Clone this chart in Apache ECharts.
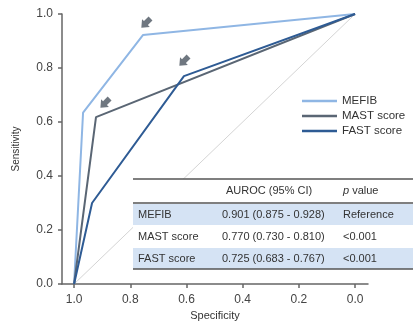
<!DOCTYPE html>
<html><head><meta charset="utf-8">
<script src="https://cdn.jsdelivr.net/npm/echarts@6/dist/echarts.min.js"></script>
<style>html,body{margin:0;padding:0;background:#fff}#c{width:416px;height:324px}</style>
</head><body><div id="c"></div>
<script>
// Data: [specificity, sensitivity]
var mefib = [[1.0, 0.0], [0.968, 0.635], [0.755, 0.922], [0.0, 1.0]];
var mast  = [[1.0, 0.0], [0.922, 0.618], [0.0, 1.0]];
var fast  = [[1.0, 0.0], [0.936, 0.30], [0.609, 0.77], [0.0, 1.0]];
var diag  = [[1.0, 0.0], [0.0, 1.0]];
var arrowTargets = [[0.755, 0.922], [0.922, 0.618], [0.609, 0.77]];
var tickValues = [0, 0.2, 0.4, 0.6, 0.8, 1.0];
var seriesNames = ['MEFIB', 'MAST score', 'FAST score'];
var tableHeader = ['', 'AUROC (95% CI)', 'p value'];
var tableRows = [
  ['MEFIB', '0.901 (0.875 - 0.928)', 'Reference'],
  ['MAST score', '0.770 (0.730 - 0.810)', '<0.001'],
  ['FAST score', '0.725 (0.683 - 0.767)', '<0.001']
];

var colors = ['#8fb6e4', '#5a6674', '#2e5b94'];
var font = 'Liberation Sans, Arial, sans-serif';
var chart = echarts.init(document.getElementById('c'));

// table graphic
var tL = 133, tR = 413, tTop = 179, hdrH = 24, rowH = 22;
var colX = [tL + 5, 222, 343];
var g = [];
g.push({type:'rect', shape:{x:tL, y:tTop, width:tR-tL, height:hdrH+rowH*3}, style:{fill:'#fff'}, z:10});
g.push({type:'line', shape:{x1:tL,y1:tTop,x2:tR,y2:tTop}, style:{stroke:'#555',lineWidth:1.5}, z:11});
tableHeader.forEach(function(h,i){
  if(!h) return;
  if(i===2){
    g.push({type:'text', x:colX[i], y:tTop+hdrH/2, style:{text:'{i|p} value', rich:{i:{fontStyle:'italic',fontSize:11,fontFamily:font,fill:'#333'}}, fontSize:11, fontFamily:font, fill:'#333', verticalAlign:'middle'}, z:12});
  } else {
    g.push({type:'text', x:colX[i]+4, y:tTop+hdrH/2, style:{text:h, fontSize:11, fontFamily:font, fill:'#333', verticalAlign:'middle'}, z:12});
  }
});
g.push({type:'line', shape:{x1:tL,y1:tTop+hdrH,x2:tR,y2:tTop+hdrH}, style:{stroke:'#555',lineWidth:1.5}, z:11});
tableRows.forEach(function(r,ri){
  var y0 = tTop+hdrH+ri*rowH;
  if(ri!==1) g.push({type:'rect', shape:{x:tL,y:y0+1,width:tR-tL,height:rowH-1}, style:{fill:'#d5e3f4'}, z:10});
  r.forEach(function(c,ci){
    g.push({type:'text', x:colX[ci], y:y0+rowH/2+1, style:{text:c, fontSize:11, fontFamily:font, fill:'#333', verticalAlign:'middle'}, z:12});
  });
});
g.push({type:'line', shape:{x1:tL,y1:tTop+hdrH+rowH*3,x2:tR,y2:tTop+hdrH+rowH*3}, style:{stroke:'#555',lineWidth:1.5}, z:11});

var arrowPath = 'path://M3,0 L9,0 L9,7 L12,7 L6,14 L0,7 L3,7 Z';
var arrowOffsets = [[3,-12],[9,-14],[0,-15]];

chart.setOption({
  animation:false,
  grid:{left:62, right:48, top:14, bottom:40, outerBoundsMode:'none', containLabel:false},
  legend:{
    data:seriesNames, orient:'vertical', left:297, top:90, icon:'rect',
    itemWidth:35, itemHeight:2.5, itemGap:3,
    textStyle:{fontSize:11.5, fontFamily:font, color:'#333'}
  },
  xAxis:{
    type:'value', inverse:true, min:-0.046, max:1.043,
    name:'Specificity', nameLocation:'middle', nameGap:24,
    nameTextStyle:{fontSize:11, fontFamily:font, color:'#333'},
    axisLine:{onZero:false, lineStyle:{color:'#666', width:1.5}},
    axisTick:{show:true, length:4, customValues:tickValues, lineStyle:{color:'#666', width:1.5}},
    axisLabel:{customValues:tickValues, fontSize:12, fontFamily:font, color:'#444', margin:10, formatter:function(v){return v.toFixed(1);}},
    splitLine:{show:false}
  },
  yAxis:{
    type:'value', min:0, max:1, interval:0.2,
    name:'Sensitivity', nameLocation:'middle', nameGap:41, nameRotate:90,
    nameTextStyle:{fontSize:10, fontFamily:font, color:'#333'},
    axisLine:{show:true, onZero:false, lineStyle:{color:'#666', width:1.5}},
    axisTick:{show:true, length:4, lineStyle:{color:'#666', width:1.5}},
    axisLabel:{fontSize:12, fontFamily:font, color:'#444', margin:9, formatter:function(v){return v.toFixed(1);}},
    splitLine:{show:false}
  },
  series:[
    {type:'line', data:diag, symbol:'none', silent:true, lineStyle:{color:'#d4d4d4', width:1}, z:1},
    {name:seriesNames[0], type:'line', data:mefib, symbol:'none', color:colors[0], lineStyle:{width:2}, z:3},
    {name:seriesNames[1], type:'line', data:mast, symbol:'none', color:colors[1], lineStyle:{width:2}, z:3},
    {name:seriesNames[2], type:'line', data:fast, symbol:'none', color:colors[2], lineStyle:{width:2}, z:3},
    {type:'scatter', data:arrowTargets.map(function(p,i){return {value:p, symbolOffset:arrowOffsets[i]};}),
     symbol:arrowPath, symbolSize:[11,13], symbolRotate:-45, itemStyle:{color:'#4b5560'}, silent:true, z:5}
  ],
  graphic:g
});
</script></body></html>
